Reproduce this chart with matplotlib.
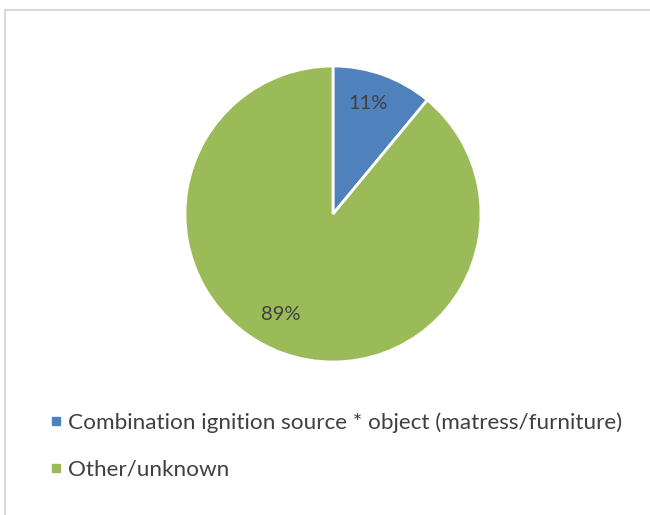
import matplotlib.pyplot as plt
from matplotlib.lines import Line2D

labels = ["Combination ignition source * object (matress/furniture)", "Other/unknown"]
shares = [11, 89]
colors = ["#4F81BD", "#9BBB59"]

W, H = 650, 515
fig = plt.figure(figsize=(W / 100, H / 100), dpi=100)
plt.rcParams['font.family'] = ['Lato', 'DejaVu Sans']

# chart border (only top and left edges visible)
fig.add_artist(Line2D([5 / W, 5 / W], [0, 1 - 10 / H], color="#d9d9d9", lw=1.5))
fig.add_artist(Line2D([5 / W, 1], [1 - 10 / H, 1 - 10 / H], color="#d9d9d9", lw=1.5))

# pie: center (333, 214), radius 148 px
cx, cy, r = 333, 214, 148
ax = fig.add_axes([(cx - r) / W, 1 - (cy + r) / H, 2 * r / W, 2 * r / H])
wedges, texts, autotexts = ax.pie(
    shares, colors=colors, startangle=90, counterclock=False,
    autopct="%d%%", pctdistance=0.78,
    wedgeprops=dict(edgecolor="white", linewidth=2),
    textprops=dict(color="#404040", fontsize=14.5),
)
autotexts[0].set_position((0.24, 0.745))
autotexts[1].set_position((-0.35, -0.68))
ax.set_xlim(-1, 1)
ax.set_ylim(-1, 1)
ax.set_aspect("equal")

handles = [Line2D([], [], marker="s", linestyle="", markersize=6, color=c) for c in colors]
fig.legend(handles, labels, loc="upper left", bbox_to_anchor=(30 / W, 1 - 392 / H),
           frameon=False, fontsize=16.2, labelcolor="#404040",
           handlelength=0.5, handletextpad=0.3, labelspacing=1.2)

fig.savefig("out.png", dpi=100)
